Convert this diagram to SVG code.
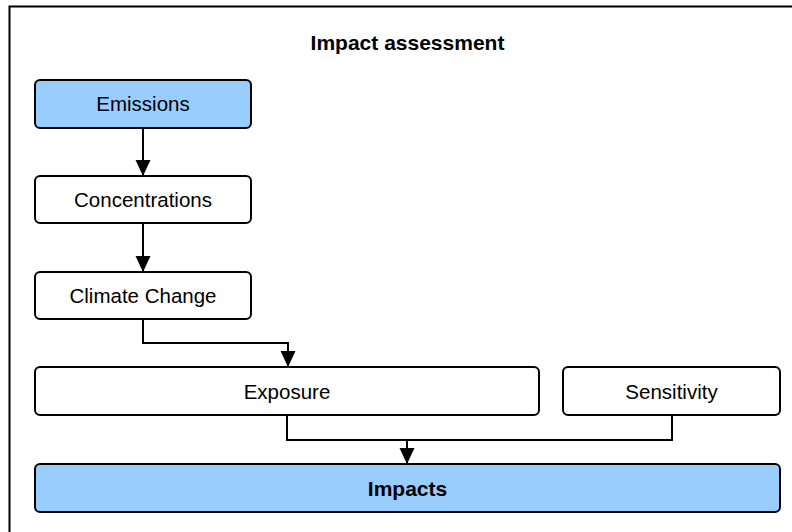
<svg xmlns="http://www.w3.org/2000/svg" width="792" height="532" viewBox="0 0 792 532">
<style>
.box{stroke:#000;stroke-width:2;}
.w{fill:#fff;}
.b{fill:#99CCFF;}
.t{font-family:"Liberation Sans",Arial,sans-serif;font-size:20.5px;fill:#000;text-anchor:middle;}
.bold{font-weight:bold;font-size:21px;}
.c{fill:none;stroke:#000;stroke-width:2;}
</style>
<defs>
<marker id="arr" markerUnits="userSpaceOnUse" markerWidth="18" markerHeight="18" refX="16" refY="7.5" orient="auto">
<path d="M0,0 L16,7.5 L0,15 Z" fill="#000"/>
</marker>
</defs>
<rect x="0" y="0" width="792" height="532" fill="#fff"/>
<rect id="frame" x="9.5" y="6.5" width="800" height="540" fill="none" stroke="#000" stroke-width="2"/>
<text class="t bold" x="407.5" y="50">Impact assessment</text>
<g id="connectors">
<path class="c" d="M143,128 V176" marker-end="url(#arr)"/>
<path class="c" d="M143,223 V272" marker-end="url(#arr)"/>
<path class="c" d="M143,319 V343 H288 V367" marker-end="url(#arr)"/>
<path class="c" d="M287,415 V440 H672 V415"/>
<path class="c" d="M407,440 V464" marker-end="url(#arr)"/>
</g>
<g id="emissions"><rect class="box b" x="35" y="80" width="216" height="48" rx="5"/><text class="t" x="143" y="111">Emissions</text></g>
<g id="concentrations"><rect class="box w" x="35" y="176" width="216" height="47" rx="5"/><text class="t" x="143" y="206.5">Concentrations</text></g>
<g id="climate"><rect class="box w" x="35" y="272" width="216" height="47" rx="5"/><text class="t" x="143" y="303">Climate Change</text></g>
<g id="exposure"><rect class="box w" x="35" y="367" width="504" height="48" rx="5"/><text class="t" x="287" y="399">Exposure</text></g>
<g id="sensitivity"><rect class="box w" x="563" y="367" width="217" height="48" rx="5"/><text class="t" x="671.5" y="399">Sensitivity</text></g>
<g id="impacts"><rect class="box b" x="35" y="464" width="745" height="48" rx="5"/><text class="t bold" x="407.5" y="496">Impacts</text></g>
</svg>
